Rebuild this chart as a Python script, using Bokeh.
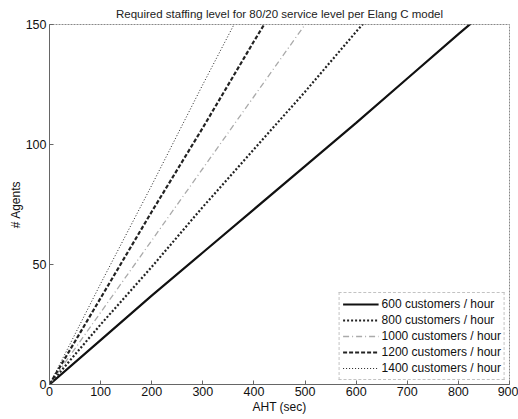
from bokeh.plotting import figure
from bokeh.embed import file_html
from bokeh.resources import INLINE
from bokeh.models import FixedTicker, Legend, LegendItem, Range1d

aht = [0, 100, 200, 300, 400, 500, 600, 700, 800, 900]
agents_600 = [0, 18.5, 37, 55, 73, 91, 109, 127.5, 146, 164]
agents_800 = [0, 25, 49, 74, 98, 122, 147, 171, 195, 220]
agents_1000 = [0, 30, 60, 90, 120, 150, 179, 209, 239, 269]
agents_1200 = [0, 36, 72, 107, 143, 178, 214, 250, 286, 321]
agents_1400 = [0, 42, 83, 125, 166, 208, 249, 291, 332, 374]
labels = ["600 customers / hour", "800 customers / hour", "1000 customers / hour",
          "1200 customers / hour", "1400 customers / hour"]
x_ticks = [0, 100, 200, 300, 400, 500, 600, 700, 800, 900]
y_ticks = [0, 50, 100, 150]

FONT = "Liberation Sans"

p = figure(width=518, height=419, output_backend="svg", toolbar_location=None,
           x_range=Range1d(0, 900), y_range=Range1d(0, 150),
           min_border_left=49, min_border_right=9, min_border_top=6, min_border_bottom=35)
p.title.text = "Required staffing level for 80/20 service level per Elang C model"
p.title.align = "center"
p.title.text_font = FONT
p.title.text_font_size = "11.5px"
p.title.text_font_style = "normal"
p.title.text_color = "#222222"
p.title.standoff = 10

series = [agents_600, agents_800, agents_1000, agents_1200, agents_1400]
styles = [
    dict(line_color="#111111", line_width=2.2, line_dash="solid"),
    dict(line_color="#222222", line_width=2.2, line_dash="2 2"),
    dict(line_color="#aaaaaa", line_width=1.3, line_dash="6 3 1 3"),
    dict(line_color="#222222", line_width=2.2, line_dash="4 2"),
    dict(line_color="#222222", line_width=1.0, line_dash="1 2"),
]
items = []
for ys, st, lab in zip(series, styles, labels):
    r = p.line(aht, ys, **st)
    items.append(LegendItem(label=lab, renderers=[r]))

legend = Legend(items=items, location="bottom_right")
legend.label_text_font = FONT
legend.label_text_font_size = "12px"
legend.label_text_color = "#111111"
legend.border_line_color = "#888888"
legend.border_line_dash = "2 1"
legend.spacing = 0
legend.padding = 3
legend.margin = 4
legend.glyph_width = 36
legend.glyph_height = 16
legend.label_height = 16
legend.label_standoff = 3
p.add_layout(legend)

p.xgrid.visible = False
p.ygrid.visible = False
p.outline_line_color = "#888888"
p.outline_line_dash = "2 1"
p.outline_line_width = 1

p.xaxis.ticker = FixedTicker(ticks=x_ticks)
p.yaxis.ticker = FixedTicker(ticks=y_ticks)
p.xaxis.axis_label = "AHT (sec)"
p.yaxis.axis_label = "# Agents"
for ax in (p.xaxis, p.yaxis):
    ax.axis_label_text_font = FONT
    ax.axis_label_text_font_size = "12px"
    ax.axis_label_text_font_style = "normal"
    ax.axis_label_text_color = "#111111"
    ax.major_label_text_font = FONT
    ax.major_label_text_font_size = "12.5px"
    ax.major_label_text_color = "#111111"
    ax.axis_line_color = "#666666"
    ax.major_tick_in = 4
    ax.major_tick_out = 0
    ax.minor_tick_line_color = None
    ax.major_tick_line_color = "#666666"
p.xaxis.axis_label_standoff = 1
p.yaxis.axis_label_standoff = 0
p.xaxis.major_label_standoff = 2
p.yaxis.major_label_standoff = 3

open("out.html", "w").write(file_html(p, INLINE))
